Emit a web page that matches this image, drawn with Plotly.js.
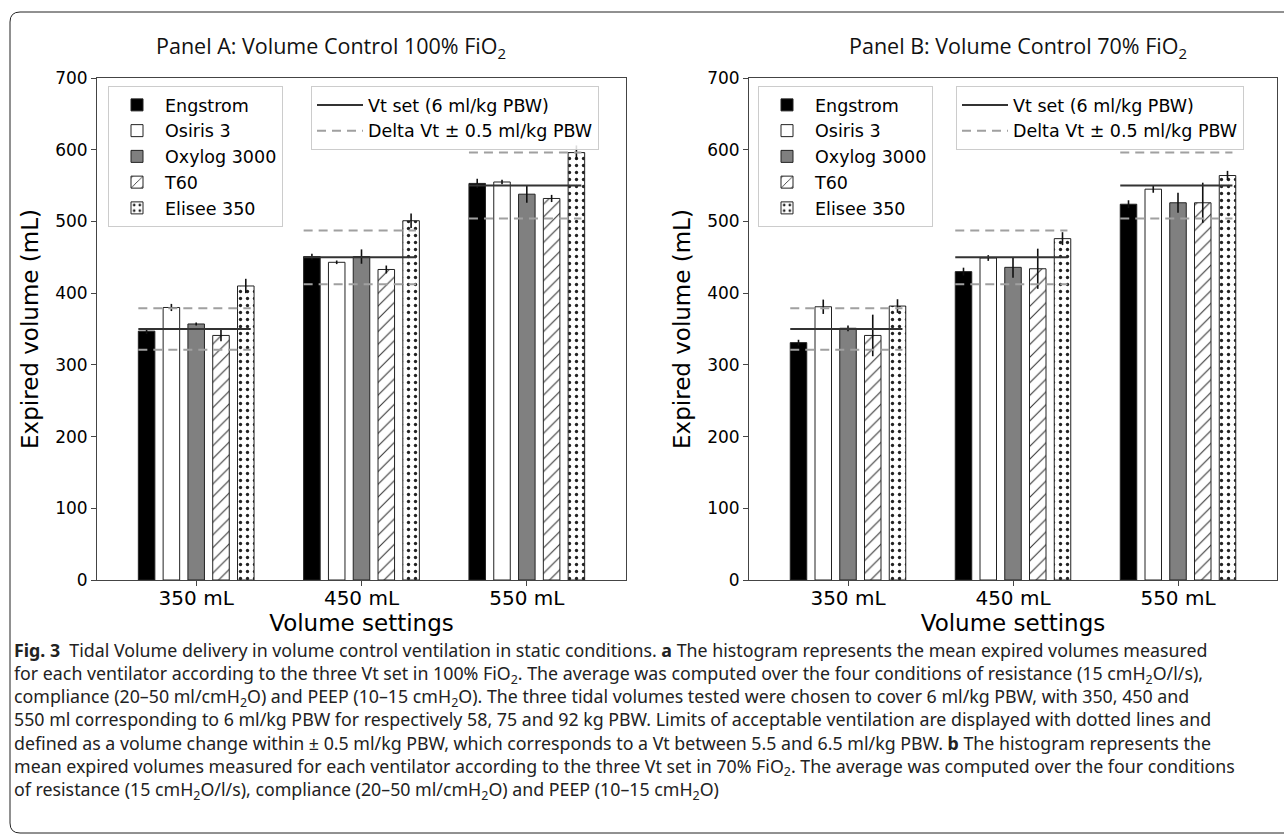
<!DOCTYPE html>
<html><head><meta charset="utf-8">
<script src="https://cdn.plot.ly/plotly-3.0.1.min.js"></script>
<style>html,body{margin:0;padding:0;background:#fff;} #chart{width:1284px;height:837px;}</style>
</head><body><div id="chart"></div>
<script>
// ---------------- data ----------------
const volumeSettings = ['350 mL', '450 mL', '550 mL'];
const devices = ['Engstrom', 'Osiris 3', 'Oxylog 3000', 'T60', 'Elisee 350'];
const vtSet = [350, 450, 550];
const deltaLow = [321, 412.5, 504];
const deltaHigh = [379, 487.5, 596];

// Panel A: 100% FiO2 (means, error)
const engstromA = [347, 451, 553];
const osirisA   = [380, 443, 555];
const oxylogA   = [357, 451, 538];
const t60A      = [341, 433, 532];
const eliseeA   = [410, 501, 596];
const engstromAErr = [4, 4, 6.5];
const osirisAErr   = [5, 2.5, 3];
const oxylogAErr   = [2, 10, 12];
const t60AErr      = [8, 5.5, 5];
const eliseeAErr   = [10, 10, 10];

// Panel B: 70% FiO2 (means, error)
const engstromB = [331, 430, 524];
const osirisB   = [381, 449, 545];
const oxylogB   = [351, 436, 526];
const t60B      = [341, 434, 526];
const eliseeB   = [382, 476, 564];
const engstromBErr = [4, 5.5, 5.5];
const osirisBErr   = [10, 4, 5];
const oxylogBErr   = [4, 14.5, 14];
const t60BErr      = [29, 28, 28];
const eliseeBErr   = [9.5, 9, 6.5];

const captionLines = [
  '<b>Fig. 3</b>  Tidal Volume delivery in volume control ventilation in static conditions. <b>a</b> The histogram represents the mean expired volumes measured',
  'for each ventilator according to the three Vt set in 100% FiO<sub>2</sub>. The average was computed over the four conditions of resistance (15 cmH<sub>2</sub>O/l/s),',
  'compliance (20–50 ml/cmH<sub>2</sub>O) and PEEP (10–15 cmH<sub>2</sub>O). The three tidal volumes tested were chosen to cover 6 ml/kg PBW, with 350, 450 and',
  '550 ml corresponding to 6 ml/kg PBW for respectively 58, 75 and 92 kg PBW. Limits of acceptable ventilation are displayed with dotted lines and',
  'defined as a volume change within ± 0.5 ml/kg PBW, which corresponds to a Vt between 5.5 and 6.5 ml/kg PBW. <b>b</b> The histogram represents the',
  'mean expired volumes measured for each ventilator according to the three Vt set in 70% FiO<sub>2</sub>. The average was computed over the four conditions',
  'of resistance (15 cmH<sub>2</sub>O/l/s), compliance (20–50 ml/cmH<sub>2</sub>O) and PEEP (10–15 cmH<sub>2</sub>O)'
];

// ---------------- styles ----------------
const W = 1284, H = 837;
const px = v => v / W;
const py = v => 1 - v / H;
const FONT = 'DejaVu Sans, Verdana, sans-serif';

const deviceStyles = [
  {color: '#000000'},
  {color: '#ffffff'},
  {color: '#808080'},
  {color: '#ffffff', pattern: {shape: '/', fgcolor: '#333', bgcolor: '#ffffff', size: 9, solidity: 0.12}},
  {color: '#ffffff', pattern: {shape: '.', fgcolor: '#222', bgcolor: '#ffffff', size: 7, solidity: 0.18}}
];

const idx = volumeSettings.map((_, i) => i);
const BAR_W = 0.1, STEP = 0.15;

function bars(seriesList, errList, xa, ya, legendName) {
  return seriesList.map((vals, k) => ({
    type: 'bar', name: devices[k], x: idx, y: vals,
    xaxis: xa, yaxis: ya, legend: legendName,
    width: BAR_W, offset: -0.35 + k * STEP,
    marker: Object.assign({color: deviceStyles[k].color, line: {color: '#222', width: 1}},
      deviceStyles[k].pattern ? {pattern: deviceStyles[k].pattern} : {}),
    error_y: {type: 'data', array: errList[k], visible: true, color: '#111', thickness: 1.6, width: 0},
    hoverinfo: 'skip'
  }));
}

function segs(values) {
  const xs = [], ys = [];
  values.forEach((v, i) => { xs.push(i - 0.35, i + 0.33, null); ys.push(v, v, null); });
  return {xs, ys};
}

function refLines(xa, ya, legendName) {
  const s = segs(vtSet);
  const lo = segs(deltaLow), hi = segs(deltaHigh);
  return [
    {type: 'scatter', mode: 'lines', name: 'Vt set (6 ml/kg PBW)', x: s.xs, y: s.ys,
     xaxis: xa, yaxis: ya, legend: legendName, line: {color: '#333', width: 2}, hoverinfo: 'skip'},
    {type: 'scatter', mode: 'lines', name: 'Delta Vt ± 0.5 ml/kg PBW',
     x: lo.xs.concat(hi.xs), y: lo.ys.concat(hi.ys),
     xaxis: xa, yaxis: ya, legend: legendName, line: {color: '#a0a0a0', width: 2, dash: '9px,6px'}, hoverinfo: 'skip'}
  ];
}

const data = [].concat(
  bars([engstromA, osirisA, oxylogA, t60A, eliseeA],
       [engstromAErr, osirisAErr, oxylogAErr, t60AErr, eliseeAErr], 'x', 'y', 'legend'),
  refLines('x', 'y', 'legend2'),
  bars([engstromB, osirisB, oxylogB, t60B, eliseeB],
       [engstromBErr, osirisBErr, oxylogBErr, t60BErr, eliseeBErr], 'x2', 'y2', 'legend3'),
  refLines('x2', 'y2', 'legend4')
);

function xAxis(domain, anchor) {
  return {domain, anchor, range: [-0.6, 2.6], tickmode: 'array', tickvals: idx, ticktext: volumeSettings,
    showline: true, mirror: true, linecolor: '#444', linewidth: 1, ticks: 'outside', ticklen: 5, tickcolor: '#444',
    ticklabelstandoff: -5,
    showgrid: false, zeroline: false, tickfont: {family: FONT, size: 20, color: '#000'},
    title: {text: 'Volume settings', font: {family: FONT, size: 23, color: '#000'}, standoff: 2}};
}
function yAxis(domain, anchor) {
  return {domain, anchor, range: [0, 700], dtick: 100, tick0: 0,
    showline: true, mirror: true, linecolor: '#444', linewidth: 1, ticks: 'outside', ticklen: 5, tickcolor: '#444',
    showgrid: false, zeroline: false, tickfont: {family: FONT, size: 17, color: '#000'},
    title: {text: 'Expired volume (mL)', font: {family: FONT, size: 23, color: '#000'}, standoff: 10}};
}

const legendBase = {xanchor: 'left', yanchor: 'top', bgcolor: 'rgba(255,255,255,0.85)', bordercolor: '#cccccc',
  borderwidth: 1, font: {family: FONT, size: 17.5, color: '#000'}, tracegroupgap: 0, traceorder: 'normal',
  itemwidth: 46};

const yDom = [py(580), py(78)];
const TITLE_FONT = {family: 'Open Sans, Noto Sans, sans-serif', size: 21.5, color: '#111'};
const annotations = [
  {text: 'Panel A: Volume Control 100% FiO<sub>2</sub>', xref: 'paper', yref: 'paper', x: px(331), y: py(47),
   xanchor: 'center', yanchor: 'middle', showarrow: false, font: TITLE_FONT},
  {text: 'Panel B: Volume Control 70% FiO<sub>2</sub>', xref: 'paper', yref: 'paper', x: px(1018), y: py(47),
   xanchor: 'center', yanchor: 'middle', showarrow: false, font: TITLE_FONT},
  {text: captionLines.join('<br>'), xref: 'paper', yref: 'paper', x: px(12), y: py(636), xanchor: 'left', yanchor: 'top',
   showarrow: false, align: 'left',
   font: {family: 'Noto Sans, Open Sans, sans-serif', size: 17.8, color: '#222'}}
];

const r = 10;
const L = px(10), T = py(12), B = py(833), R = px(1295);
const rx = r / W, ry = r / H;
const framePath = `M ${R} ${T} L ${L + rx} ${T} Q ${L} ${T} ${L} ${T - ry} L ${L} ${B + ry} Q ${L} ${B} ${L + rx} ${B} L ${R} ${B}`;

const layout = {
  width: W, height: H, margin: {l: 0, r: 0, t: 0, b: 0}, paper_bgcolor: '#fff', plot_bgcolor: '#fff',
  barmode: 'overlay', showlegend: true,
  font: {family: FONT, color: '#000'},
  xaxis: xAxis([px(97), px(626)], 'y'),
  yaxis: yAxis(yDom, 'x'),
  xaxis2: xAxis([px(749), px(1277)], 'y2'),
  yaxis2: yAxis(yDom, 'x2'),
  legend: Object.assign({}, legendBase, {x: px(108), y: py(86)}),
  legend2: Object.assign({}, legendBase, {x: px(311), y: py(86)}),
  legend3: Object.assign({}, legendBase, {x: px(758), y: py(86)}),
  legend4: Object.assign({}, legendBase, {x: px(956), y: py(86)}),
  annotations,
  shapes: [{type: 'path', xref: 'paper', yref: 'paper', path: framePath, line: {color: '#222', width: 1}, fillcolor: 'rgba(0,0,0,0)'}]
};

Plotly.newPlot('chart', data, layout, {staticPlot: true, displayModeBar: false});
</script>
</body></html>
